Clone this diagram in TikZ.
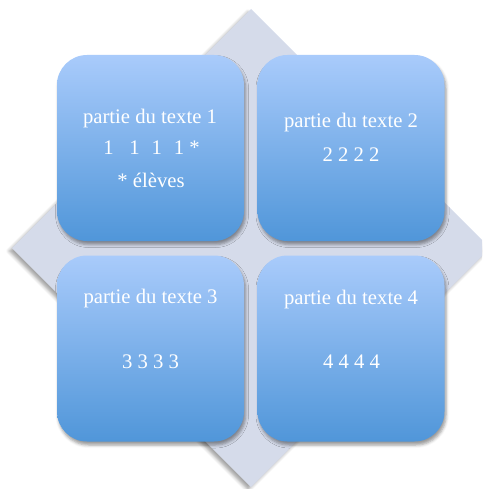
\documentclass[tikz,border=0pt]{standalone}
\usepackage{fontspec}
\setmainfont{Liberation Serif}
\usetikzlibrary{shadows.blur}
\definecolor{diamondfill}{HTML}{D5DBEA}
\definecolor{boxtop}{HTML}{A9CBFB}
\definecolor{boxbottom}{HTML}{5096D9}
\tikzset{
  panel/.style={rectangle, rounded corners=30pt, minimum width=187pt, minimum height=186pt,
    inner sep=0pt, top color=boxtop, bottom color=boxbottom, draw=none,
    blur shadow={shadow xshift=1.5pt, shadow yshift=-3.5pt, shadow blur radius=3pt, shadow opacity=40}},
  label/.style={anchor=base, text=white, inner sep=0pt, font=\fontsize{20.7pt}{24pt}\selectfont}
}
\begin{document}
\begin{tikzpicture}[x=1pt,y=-1pt]
\useasboundingbox (0,0) rectangle (482,489);
\clip (0,0) rectangle (482,489);
\fill[diamondfill, blur shadow={shadow xshift=-3pt, shadow yshift=-3pt, shadow blur radius=3pt, shadow opacity=35}]
  (251,9) -- (490,248) -- (251,487) -- (12,248) -- cycle;
\node[panel] (b1) at (150.5,148) {};
\node[panel] (b2) at (351,148) {};
\node[panel] (b3) at (150.5,348.5) {};
\node[panel] (b4) at (351,348.5) {};
\node[label] (t1a) at (150,124) {partie du texte 1};
\node[label] (t1b) at (151.5,154) {1\hspace{0.76em}1\hspace{0.57em}1\hspace{0.57em}1 *};
\node[label] (t1c) at (151,187) {* élèves};
\node[label] (t2a) at (351,127.5) {partie du texte 2};
\node[label] (t2b) at (351,161) {2 2 2 2};
\node[label] (t3a) at (150.5,303.5) {partie du texte 3};
\node[label] (t3b) at (150.5,368) {3 3 3 3};
\node[label] (t4a) at (351,304) {partie du texte 4};
\node[label] (t4b) at (351.5,368) {4 4 4 4};
\end{tikzpicture}
\end{document}
